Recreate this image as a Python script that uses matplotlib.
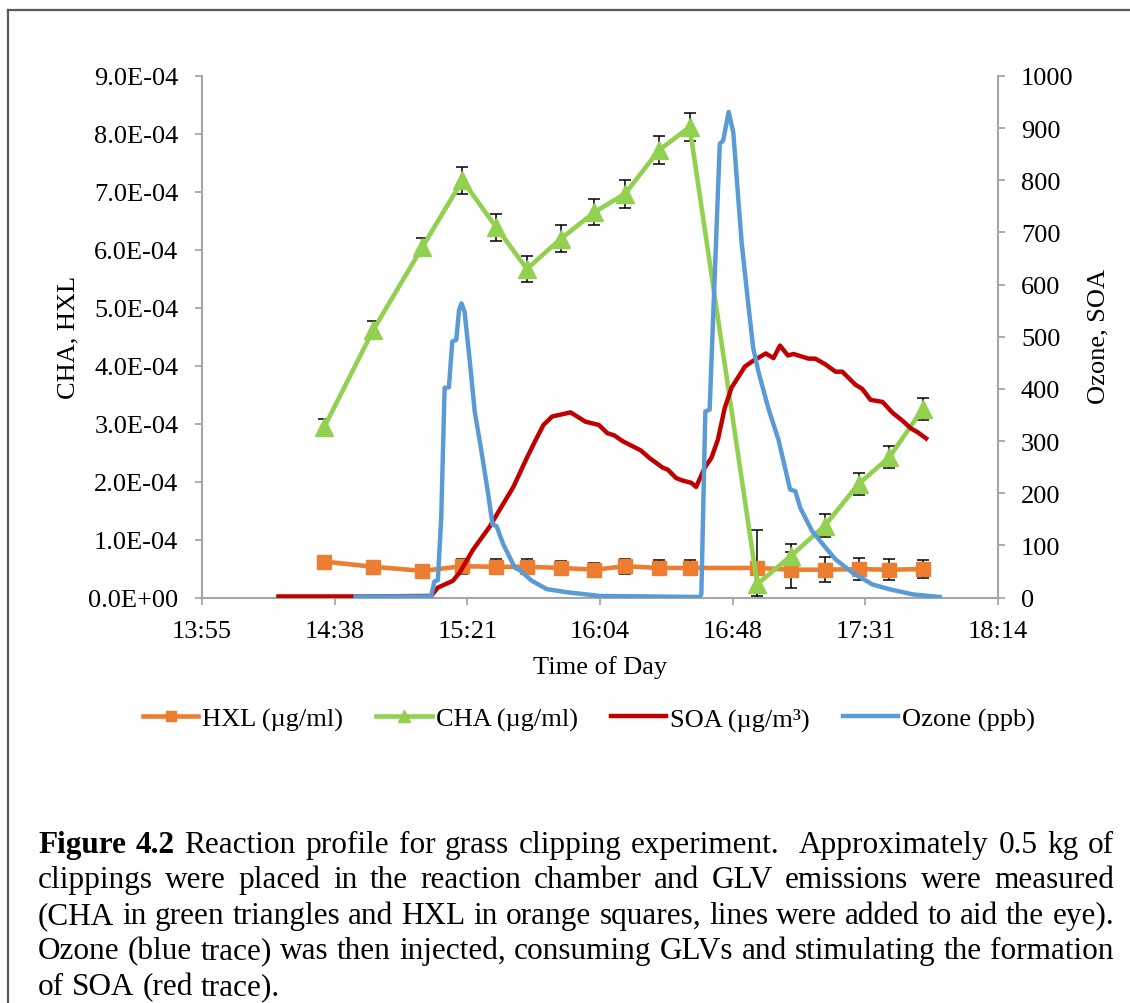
import numpy as np
import pandas as pd
import matplotlib
matplotlib.use('Agg')
import matplotlib.pyplot as plt
from matplotlib.lines import Line2D

plt.rcParams['font.family'] = ['Liberation Serif', 'DejaVu Serif']

W, H = 1130, 1004

# GLV samples (ug/ml)
glv_time = ['14:35', '14:51', '15:07', '15:20', '15:31', '15:41', '15:52', '16:03', '16:13',
            '16:24', '16:34', '16:56', '17:07', '17:18', '17:29', '17:39', '17:50']
cha = [2.94e-4, 4.62e-4, 6.05e-4, 7.20e-4, 6.39e-4, 5.67e-4, 6.19e-4, 6.65e-4, 6.97e-4,
       7.72e-4, 8.12e-4, 0.23e-4, 0.72e-4, 1.24e-4, 1.96e-4, 2.42e-4, 3.26e-4]
cha_err = [0.14e-4, 0.16e-4, 0.16e-4, 0.23e-4, 0.23e-4, 0.23e-4, 0.23e-4, 0.23e-4, 0.24e-4,
           0.24e-4, 0.24e-4, 0.20e-4, 0.21e-4, 0.20e-4, 0.19e-4, 0.19e-4, 0.19e-4]
hxl = [0.62e-4, 0.53e-4, 0.46e-4, 0.54e-4, 0.53e-4, 0.53e-4, 0.51e-4, 0.48e-4, 0.54e-4,
       0.51e-4, 0.51e-4, 0.51e-4, 0.48e-4, 0.48e-4, 0.49e-4, 0.48e-4, 0.49e-4]
hxl_err = [0, 0, 0, 0.13e-4, 0.13e-4, 0.13e-4, 0.12e-4, 0.12e-4, 0.13e-4,
           0.13e-4, 0.13e-4, 0.65e-4, 0.31e-4, 0.22e-4, 0.19e-4, 0.18e-4, 0.16e-4]

# SOA trace (ug/m3)
soa_time = ['14:20:06', '14:45:00', '15:09:48', '15:12:00', '15:16:54', '15:19:06', '15:21:18',
            '15:23:30', '15:28:54', '15:32:12', '15:36:36', '15:41:00', '15:44:12', '15:46:24',
            '15:49:12', '15:55:12', '16:00:06', '16:04:24', '16:07:12', '16:09:24', '16:12:06',
            '16:18:06', '16:20:48', '16:25:12', '16:26:54', '16:29:36', '16:31:48', '16:34:30',
            '16:36:06', '16:38:54', '16:41:06', '16:43:12', '16:45:24', '16:47:36', '16:52:00',
            '16:54:42', '16:58:48', '17:01:18', '17:03:24', '17:06:00', '17:07:48', '17:12:42',
            '17:14:54', '17:18:12', '17:21:30', '17:23:42', '17:28:00', '17:30:12', '17:32:54',
            '17:36:48', '17:40:06', '17:43:18', '17:46:06', '17:48:12', '17:51:00']
soa = [2, 2, 3, 19, 32, 48, 70, 92, 136, 169, 212, 268, 306, 331, 347, 355, 337, 331, 315, 311,
       300, 282, 268, 249, 245, 229, 224, 220, 212, 249, 268, 303, 363, 402, 443, 454, 468, 459,
       483, 464, 467, 458, 458, 447, 433, 433, 408, 400, 379, 375, 354, 339, 324, 317, 305]

# ozone trace (ppb)
o3_time = ['14:45:12', '15:09:48', '15:10:54', '15:12:00', '15:13:06', '15:14:12', '15:15:36',
           '15:16:42', '15:18:00', '15:18:54', '15:19:42', '15:20:42', '15:22:24', '15:24:00',
           '15:26:12', '15:28:24', '15:29:48', '15:31:06', '15:33:18', '15:37:06', '15:38:48',
           '15:42:36', '15:47:30', '15:54:06', '16:04:48', '16:37:12', '16:37:48', '16:39:06',
           '16:40:30', '16:43:48', '16:44:54', '16:46:42', '16:48:12', '16:50:54', '16:53:06',
           '16:54:42', '16:56:24', '16:59:36', '17:02:54', '17:06:42', '17:08:24', '17:10:00',
           '17:13:48', '17:18:12', '17:21:30', '17:26:54', '17:33:30', '17:39:00', '17:46:36',
           '17:55:24']
o3 = [2, 2, 31, 33, 153, 402, 403, 491, 494, 551, 564, 548, 453, 357, 280, 198, 140, 137, 102, 57,
      52, 32, 16, 10, 3, 1, 6, 357, 360, 870, 876, 931, 892, 682, 561, 478, 433, 363, 303, 207,
      204, 172, 128, 96, 73, 48, 25, 16, 6, 1]

x_ticklabels = ['13:55', '14:38', '15:21', '16:04', '16:48', '17:31', '18:14']

caption = ['Figure 4.2 Reaction profile for grass clipping experiment.  Approximately 0.5 kg of',
           'clippings were placed in the reaction chamber and GLV emissions were measured',
           '(CHA in green triangles and HXL in orange squares, lines were added to aid the eye).',
           'Ozone (blue trace) was then injected, consuming GLVs and stimulating the formation',
           'of SOA (red trace).']


def day_frac(ts):
    ts = [t if t.count(':') == 2 else t + ':00' for t in ts]
    return pd.to_timedelta(ts).total_seconds().values / 86400.0


c_hxl, c_cha, c_soa, c_o3 = '#ED7D31', '#92D050', '#C00000', '#5B9BD5'
gray = '#A6A6A6'
fs = 19

fig = plt.figure(figsize=(W / 100, H / 100), dpi=100)
ax = fig.add_axes([202 / W, 1 - 598.5 / H, 796 / W, 521.5 / H])
ax2 = ax.twinx()

tg = day_frac(glv_time)
ax.errorbar(tg, hxl, yerr=hxl_err, fmt='none', ecolor='k', elinewidth=1.1, capsize=4.3,
            capthick=1.1, zorder=2)
ax.errorbar(tg, cha, yerr=cha_err, fmt='none', ecolor='k', elinewidth=1.1, capsize=4.3,
            capthick=1.1, zorder=2)
l_hxl, = ax.plot(tg, hxl, color=c_hxl, lw=3.3, marker='s', ms=9.5, solid_joinstyle='round',
                 label='HXL (µg/ml)', zorder=3)
l_cha, = ax.plot(tg, cha, color=c_cha, lw=3.3, marker='^', ms=13, solid_joinstyle='round',
                 label='CHA (µg/ml)', zorder=3)
l_soa, = ax2.plot(day_frac(soa_time), soa, color=c_soa, lw=3.2, solid_joinstyle='round',
                  label='SOA (µg/m³)')
l_o3, = ax2.plot(day_frac(o3_time), o3, color=c_o3, lw=3.2, solid_joinstyle='round',
                 label='Ozone (ppb)')

ax.set_xlim(0.58, 0.76)
ax.set_xticks(np.arange(0.58, 0.7601, 0.03))
ax.set_xticklabels(x_ticklabels, fontsize=fs)
ax.set_ylim(0, 9e-4)
yt = np.arange(0, 9.01e-4, 1e-4)
ax.set_yticks(yt)
ax.set_yticklabels(['{:.1E}'.format(v) for v in yt], fontsize=fs)
ax2.set_ylim(0, 1000)
ax2.set_yticks(np.arange(0, 1001, 100))
ax2.set_yticklabels([str(v) for v in range(0, 1001, 100)], fontsize=fs)

for a in (ax, ax2):
    for s in a.spines.values():
        s.set_visible(False)
    a.tick_params(direction='out', length=5, width=1.3, color=gray, pad=11.5)
ax.spines['left'].set_visible(True)
ax.spines['bottom'].set_visible(True)
ax2.spines['right'].set_visible(True)
for s in (ax.spines['left'], ax.spines['bottom'], ax2.spines['right']):
    s.set_color(gray)
    s.set_linewidth(1.5)
ax.tick_params(axis='y', pad=12)

fig.text(68 / W, 1 - 337 / H, 'CHA, HXL', rotation=90, ha='center', va='center', fontsize=fs)
fig.text(1098 / W, 1 - 337 / H, 'Ozone, SOA', rotation=90, ha='center', va='center', fontsize=fs)
fig.text(600 / W, 1 - 668 / H, 'Time of Day', ha='center', va='center', fontsize=fs)

fig.legend([l_hxl, l_cha, l_soa, l_o3], [l.get_label() for l in (l_hxl, l_cha, l_soa, l_o3)],
           loc='center', bbox_to_anchor=(589 / W, 1 - 720 / H), ncol=4, frameon=False,
           fontsize=fs, handlelength=2.1, handletextpad=0.15, columnspacing=1.25,
           markerscale=0.7)

# caption, justified
renderer = fig.canvas.get_renderer()
cap_fs = 22.5
x0, x1 = 38, 1114
for i, line in enumerate(caption):
    y = 1 - (853 + 35.5 * i) / H
    words, weights = [], []
    for tok in line.split(' '):
        if tok == '':
            weights[-1] += 1
            continue
        words.append(tok)
        weights.append(1)
    weights = weights[:-1]
    texts = []
    for k, wd in enumerate(words):
        bold = (i == 0 and k < 2)
        texts.append(fig.text(0, y, wd, fontsize=cap_fs, va='baseline',
                              fontweight='bold' if bold else 'normal'))
    widths = [t.get_window_extent(renderer).width for t in texts]
    if i < len(caption) - 1:
        gap = (x1 - x0 - sum(widths)) / sum(weights)
    else:
        gap = cap_fs * 100 / 72 * 0.25
    x = x0
    for k, t in enumerate(texts):
        t.set_x(x / W)
        x += widths[k] + (gap * weights[k] if k < len(weights) else 0)

# outer frame
fig.add_artist(Line2D([8 / W, 1], [1 - 11 / H, 1 - 11 / H], transform=fig.transFigure,
                      color='#595959', lw=1.6))
fig.add_artist(Line2D([8 / W, 8 / W], [1 - 11 / H, 0], transform=fig.transFigure,
                      color='#595959', lw=1.6))

fig.savefig('out.png', dpi=100)
